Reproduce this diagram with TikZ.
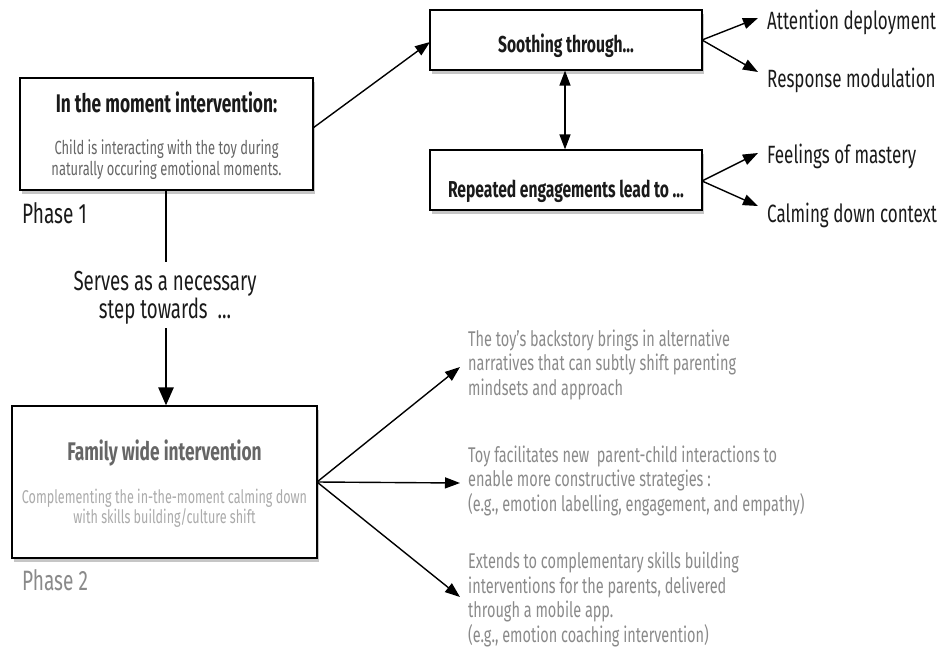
\documentclass[tikz,border=0pt]{standalone}
\usepackage{fontspec}
\setmainfont{Fira Sans}[FakeStretch=0.68]
\usetikzlibrary{shadows,arrows.meta}
\definecolor{gA}{HTML}{1A1A1A}
\definecolor{gB}{HTML}{666666}
\definecolor{gC}{HTML}{8A8A8A}
\definecolor{gD}{HTML}{ABABAB}
\tikzset{
  box/.style={draw=black, line width=1.2pt, fill=white, drop shadow={shadow xshift=2pt, shadow yshift=-4pt, opacity=0.45}},
  conn/.style={line width=1.4pt, -{Triangle[length=15pt,width=11pt]}},
  biconn/.style={line width=1.4pt, {Triangle[length=15pt,width=11pt]}-{Triangle[length=15pt,width=11pt]}},
  thickconn/.style={line width=2.6pt, -{Triangle[length=18pt,width=15pt]}},
  lbl/.style={anchor=base west, inner sep=0pt, font=\fontsize{25}{28}\selectfont, text=gA},
  ttl/.style={anchor=base, inner sep=0pt, font=\bfseries\fontsize{24}{28}\selectfont, text=gA},
  gtxt/.style={anchor=base west, inner sep=0pt, align=left, font=\fontsize{21.3}{24.4}\selectfont, text=gC},
}
\begin{document}
\begin{tikzpicture}[x=1pt,y=-1pt]
\useasboundingbox (0,0) rectangle (939,650);
% boxes (multi-line nodes are placed by the baseline of their last line)
\node[box, minimum width=293pt, minimum height=112pt] (b1) at (166.5,134) {};
\node[ttl, font=\bfseries\fontsize{25.5}{28}\selectfont] (b1t) at (166.5,113) {In the moment intervention:};
\node[anchor=base, inner sep=0pt, font=\fontsize{19}{20.5}\selectfont, text=gB, align=center] (b1b) at (166.5,175) {Child is interacting with the toy during\\naturally occuring emotional moments.};
\node[lbl, font=\fontsize{28}{30}\selectfont] (p1) at (22,223) {Phase 1};

\node[box, minimum width=272pt, minimum height=60pt] (s) at (566,40) {};
\node[ttl, font=\bfseries\fontsize{23}{26}\selectfont] (st) at (566,53) {Soothing through...};
\node[box, minimum width=272pt, minimum height=60pt] (r) at (566,180) {};
\node[ttl, font=\bfseries\fontsize{23}{26}\selectfont] (rt) at (566,197) {Repeated engagements lead to ...};

\node[box, minimum width=305pt, minimum height=152pt] (b2) at (164.5,482) {};
\node[ttl, font=\bfseries\fontsize{25.5}{28}\selectfont, text=gB] (b2t) at (164.5,460) {Family wide intervention};
\node[anchor=base, inner sep=0pt, font=\fontsize{18.5}{18.5}\selectfont, text=gD, align=center] (b2b) at (164.5,523) {Complementing the in-the-moment calming down\\with skills building/culture shift};
\fill[white] (0,563) rectangle (163,605);
\node[lbl, font=\fontsize{28}{30}\selectfont, text=gC] (p2) at (22,590) {Phase 2};

% middle label
\node[anchor=base, inner sep=0pt, font=\fontsize{27.5}{28}\selectfont, text=gA, align=center] (mid) at (165,318) {Serves as a necessary\\step towards~~...};
\coordinate (m1) at (166,262);
\coordinate (m2) at (166,328);
\draw[line width=2.6pt] (b1.south -| m1) -- (m1);
\draw[thickconn] (m2) -- (b2.north -| m2);

% box1 -> soothing
\coordinate (b1o) at (313,128);
\coordinate (si) at (430,42);
\draw[conn] (b1o) -- (si);
\coordinate (vx) at (565,0);
\draw[biconn] (s.south -| vx) -- (r.north -| vx);

% right labels
\node[lbl] (a1) at (767,30) {Attention deployment};
\node[lbl] (a2) at (767,88) {Response modulation};
\node[lbl] (a3) at (767,163) {Feelings of mastery};
\node[lbl] (a4) at (767,222) {Calming down context};
\coordinate (sr) at (702,40);
\coordinate (rr) at (702,181);
\coordinate (a1t) at (758,18);
\coordinate (a2t) at (758,72);
\coordinate (a3t) at (758,153);
\coordinate (a4t) at (758,206);
\draw[conn] (sr) -- (a1t);
\draw[conn] (sr) -- (a2t);
\draw[conn] (rr) -- (a3t);
\draw[conn] (rr) -- (a4t);

% bottom right texts
\node[gtxt] (t1) at (468,395) {The toy's backstory brings in alternative\\narratives that can subtly shift parenting\\mindsets and approach};
\node[gtxt] (t2) at (468,511) {Toy facilitates new~ parent-child interactions to\\enable more constructive strategies :\\(e.g., emotion labelling, engagement, and empathy)};
\node[gtxt] (t3) at (468,642) {Extends to complementary skills building\\interventions for the parents, delivered\\through a mobile app.\\(e.g., emotion coaching intervention)};
\coordinate (b2o) at (317,482);
\coordinate (e1) at (460,367);
\coordinate (e2) at (460,483);
\coordinate (e3) at (460,597);
\draw[conn] (b2o) -- (e1);
\draw[conn] (b2o) -- (e2);
\draw[conn] (b2o) -- (e3);
\end{tikzpicture}
\end{document}
